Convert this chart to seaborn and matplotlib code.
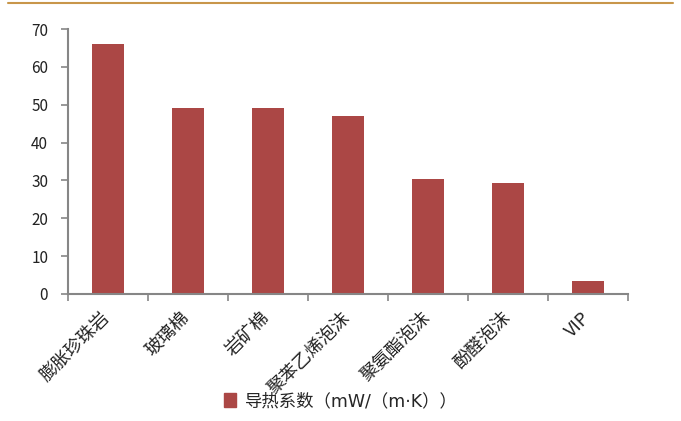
import matplotlib
matplotlib.use("Agg")
import matplotlib.pyplot as plt
import matplotlib.transforms as mtransforms
import seaborn as sns
import pandas as pd
from matplotlib.lines import Line2D

categories = ["膨胀珍珠岩", "玻璃棉", "岩矿棉", "聚苯乙烯泡沫", "聚氨酯泡沫", "酚醛泡沫", "VIP"]
values = [66.0, 49.2, 49.2, 47.1, 30.3, 29.2, 3.3]
series_name = "导热系数（mW/（m·K））"
yticks = [0, 10, 20, 30, 40, 50, 60, 70]

sns.set_theme(style="white")
plt.rcParams['font.family'] = ['Noto Sans CJK SC', 'DejaVu Sans']

df = pd.DataFrame({"cat": categories, "val": values})

fig = plt.figure(figsize=(6.81, 4.21), dpi=100)
ax = fig.add_axes([0.0994, 0.3017, 0.8230, 0.6294])

bar_color = "#AB4745"
sns.barplot(data=df, x="cat", y="val", color=bar_color, width=0.4,
            saturation=1, ax=ax, edgecolor="none")

ax.set_xlim(-0.5, len(categories) - 0.5)
ax.set_ylim(0, 70)
ax.set_yticks(yticks)
ax.set_yticklabels([str(t) for t in yticks], fontsize=11, color="#222222")
ax.set_xlabel("")
ax.set_ylabel("")

for s in ["top", "right"]:
    ax.spines[s].set_visible(False)
for s in ["left", "bottom"]:
    ax.spines[s].set_color("#868686")
    ax.spines[s].set_linewidth(1.5)

ax.tick_params(axis="y", direction="out", length=5, width=1.2, color="#868686", pad=9, left=True)
ax.tick_params(axis="x", bottom=False)

# x category labels
ax.set_xticks(range(len(categories)))
ax.set_xticklabels(categories, rotation=45, ha="right", rotation_mode="anchor",
                   fontsize=13, color="#222222")
ax.tick_params(axis="x", pad=1)
offset = mtransforms.ScaledTranslation(-0.07, -0.05, fig.dpi_scale_trans)
for lab in ax.get_xticklabels():
    lab.set_transform(lab.get_transform() + offset)

# category boundary ticks below the axis
ax.set_xticks([i - 0.5 for i in range(len(categories) + 1)], minor=True)
ax.tick_params(axis="x", which="minor", bottom=True, direction="out", length=5,
               width=1.2, color="#868686")

# legend at bottom
handle = plt.Rectangle((0, 0), 1, 1, color=bar_color)
fig.legend([handle], [series_name], loc="center", bbox_to_anchor=(0.5, 0.047),
           frameon=False, handlelength=0.7, handleheight=0.9,
           handletextpad=0.5,
           prop={"family": ["DejaVu Sans", "Noto Sans CJK SC"], "size": 12.5})

# orange top line
fig.add_artist(Line2D([0.012, 0.988], [0.993, 0.993], transform=fig.transFigure,
                      color="#C8964A", linewidth=1.5))

fig.savefig("out.png", dpi=100)
